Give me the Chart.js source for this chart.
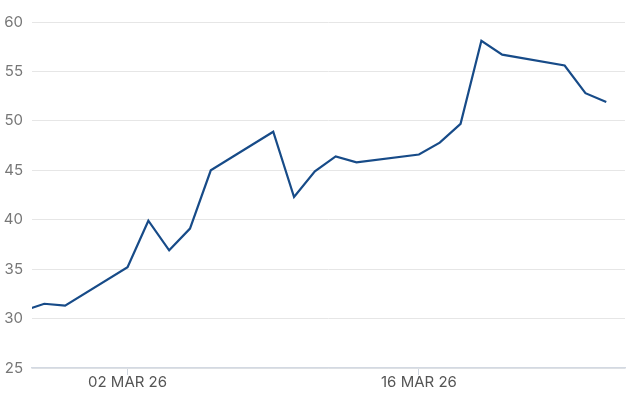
<!DOCTYPE html>
<html>
<head>
<meta charset="utf-8">
<script src="https://cdn.jsdelivr.net/npm/chart.js@4"></script>
<style>
  html, body { margin: 0; padding: 0; background: #fff; }
  #wrap { width: 626px; height: 417px; position: relative; }
</style>
</head>
<body>
<div id="wrap"><canvas id="c" width="626" height="417"></canvas></div>
<script>
// Data
const dates = [
  "2026-02-25", "2026-02-26", "2026-02-27",
  "2026-03-02", "2026-03-03", "2026-03-04", "2026-03-05", "2026-03-06",
  "2026-03-09", "2026-03-10", "2026-03-11", "2026-03-12", "2026-03-13",
  "2026-03-16", "2026-03-17", "2026-03-18", "2026-03-19", "2026-03-20",
  "2026-03-23", "2026-03-24", "2026-03-25"
];
const values = [
  30.8, 31.5, 31.3,
  35.2, 39.9, 36.9, 39.1, 45.0,
  48.9, 42.3, 44.9, 46.4, 45.8,
  46.6, 47.8, 49.7, 58.1, 56.7,
  55.6, 52.8, 51.9
];
const tickDates = ["2026-03-02", "2026-03-16"];
const tickLabels = ["02 MAR 26", "16 MAR 26"];
const yTicks = [25, 30, 35, 40, 45, 50, 55, 60];

const DAY = 86400000;
const base = Date.UTC(2026, 2, 2);
const toDay = s => { const [y, m, d] = s.split("-").map(Number); return (Date.UTC(y, m - 1, d) - base) / DAY; };
const points = dates.map((d, i) => ({ x: toDay(d), y: values[i] }));
const tickPos = tickDates.map(toDay);

const FONT = "Inter, 'Liberation Sans', sans-serif";

new Chart(document.getElementById("c"), {
  type: "line",
  data: {
    datasets: [{
      data: points,
      borderColor: "#174b88",
      borderWidth: 2.2,
      pointRadius: 0,
      tension: 0,
      fill: false
    }]
  },
  options: {
    responsive: false,
    animation: false,
    events: [],
    layout: { padding: { top: 22, right: 1, left: 0, bottom: 0 } },
    plugins: { legend: { display: false }, tooltip: { enabled: false } },
    scales: {
      x: {
        type: "linear",
        min: -4.59,
        max: 23.9,
        afterBuildTicks: s => { s.ticks = tickPos.map(v => ({ value: v })); },
        afterFit: s => { s.height = 49; },
        ticks: {
          autoSkip: false,
          maxRotation: 0,
          padding: -2,
          color: "#555",
          font: { family: FONT, size: 15 },
          callback: (v) => { const i = tickPos.indexOf(v); return i >= 0 ? tickLabels[i] : ""; }
        },
        grid: {
          drawOnChartArea: false,
          drawTicks: true,
          tickLength: 7,
          color: "#cfd6e0",
          lineWidth: 1
        },
        border: { display: true, color: "#d3d9e2", width: 1.5 }
      },
      y: {
        min: 25,
        max: 60,
        afterBuildTicks: s => { s.ticks = yTicks.map(v => ({ value: v })); },
        afterFit: s => { s.width = 32; },
        ticks: {
          padding: 9,
          color: "#777",
          font: { family: FONT, size: 15 }
        },
        grid: {
          drawTicks: false,
          color: "#e6e6e6",
          lineWidth: 1
        },
        border: { display: false }
      }
    }
  }
});
</script>
</body>
</html>
